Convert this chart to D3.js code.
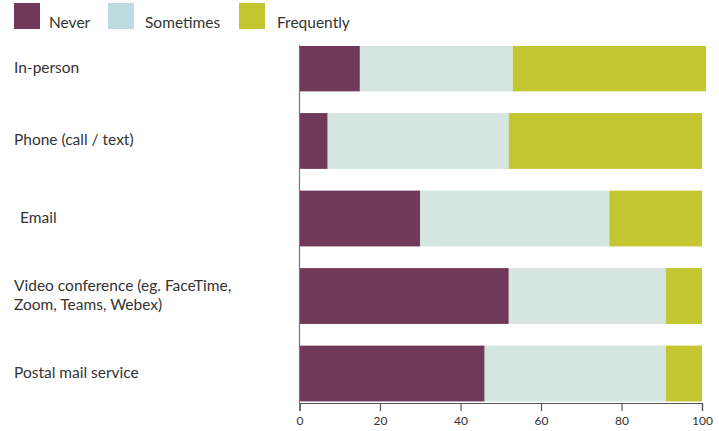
<!DOCTYPE html>
<html>
<head>
<meta charset="utf-8">
<script src="https://cdn.jsdelivr.net/npm/d3@7"></script>
<style>
  body { margin: 0; background: #fff; }
  text { font-family: Lato, "Open Sans", sans-serif; fill: #333; }
</style>
</head>
<body>
<div id="mainDiv"></div>
<script>
var categories = ["In-person", "Phone (call / text)", "Email", "Video conference (eg. FaceTime,|Zoom, Teams, Webex)", "Postal mail service"];
var seriesNames = ["Never", "Sometimes", "Frequently"];
var never = [15, 7, 30, 52, 46];
var sometimes = [38, 45, 47, 39, 45];
var frequently = [48, 48, 23, 9, 9];
var ticks = [0, 20, 40, 60, 80, 100];

var barColors = ["#713959", "#d5e5df", "#c4c630"];
var legendColors = ["#713959", "#bcdcdf", "#c4c630"];

var mySvg = d3.select("#mainDiv").append("svg")
              .attr("width", 719)
              .attr("height", 431);

var x = d3.scaleLinear().domain([0, 100]).range([299.5, 702]);
var y = d3.scaleBand().domain(categories).range([34, 403])
          .paddingInner(0.28).paddingOuter(0.02);

var rows = categories.map(function (c, i) {
    return { cat: c, Never: never[i], Sometimes: sometimes[i], Frequently: frequently[i] };
});
var stacked = d3.stack().keys(seriesNames)(rows);

// plot area starts below the legend, first bar gets cut
mySvg.append("clipPath").attr("id", "plotClip")
     .append("rect")
     .attr("x", 0).attr("y", 46).attr("width", 719).attr("height", 400);

var g = mySvg.append("g").attr("clip-path", "url(#plotClip)");
g.selectAll("g.series")
 .data(stacked)
 .enter().append("g")
 .attr("class", "series")
 .attr("fill", function (d, i) { return barColors[i]; })
 .selectAll("rect")
 .data(function (d) { return d; })
 .enter().append("rect")
 .attr("x", function (d) { return x(d[0]); })
 .attr("y", function (d) { return y(d.data.cat); })
 .attr("width", function (d) { return x(d[1]) - x(d[0]); })
 .attr("height", y.bandwidth());

// vertical axis line
mySvg.append("line")
     .attr("x1", x(0)).attr("x2", x(0))
     .attr("y1", 45).attr("y2", 403)
     .attr("stroke", "#777").attr("stroke-width", 1.2);

// x axis
var xAxis = mySvg.append("g")
     .attr("transform", "translate(0,403)")
     .call(d3.axisBottom(x).tickValues(ticks).tickSize(8).tickPadding(5));
xAxis.select(".domain").attr("stroke", "#555").attr("stroke-width", 1.2);
xAxis.selectAll(".tick line").attr("stroke", "#555").attr("stroke-width", 1.2);
xAxis.selectAll(".tick text")
     .style("font-family", "Lato, sans-serif")
     .style("font-size", "12px")
     .attr("fill", "#333");

// category labels
var labelX = [14, 14, 20, 14, 14];
categories.forEach(function (c, i) {
    var top = Math.max(y(c), 46);
    var mid = (top + y(c) + y.bandwidth()) / 2;
    var lines = c.split("|");
    var t = mySvg.append("text")
                 .attr("x", labelX[i])
                 .attr("y", mid - (lines.length - 1) * 9.5 + 4)
                 .style("font-size", "15.5px");
    lines.forEach(function (l, k) {
        t.append("tspan").attr("x", labelX[i]).attr("dy", k === 0 ? 0 : 19).text(l);
    });
});

// legend
var legendX = [14, 108, 239];
var legendTextX = [49, 145, 277];
seriesNames.forEach(function (s, i) {
    mySvg.append("rect")
         .attr("x", legendX[i]).attr("y", 3)
         .attr("width", 26).attr("height", 26)
         .attr("fill", legendColors[i]);
    mySvg.append("text")
         .attr("x", legendTextX[i]).attr("y", 28)
         .style("font-size", "15.5px")
         .text(s);
});
</script>
</body>
</html>
